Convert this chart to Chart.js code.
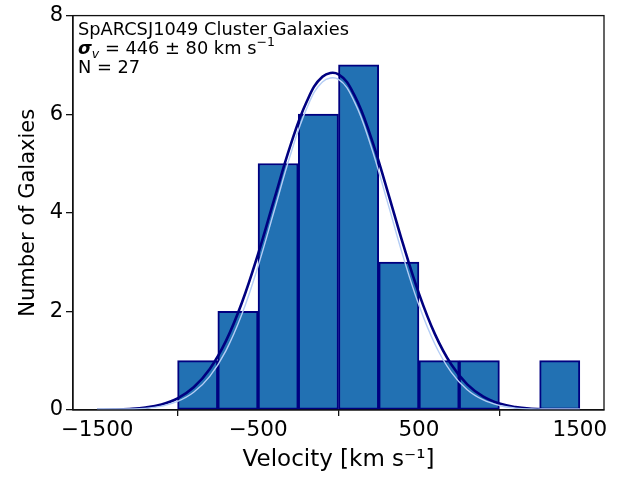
<!DOCTYPE html>
<html>
<head>
<meta charset="utf-8">
<script src="https://cdn.jsdelivr.net/npm/chart.js@4/dist/chart.umd.min.js"></script>
<style>
  html, body { margin: 0; padding: 0; background: #fff; }
  canvas { display: block; }
</style>
</head>
<body>
<canvas id="velChart" width="619" height="478"></canvas>
<script>
// histogram bins (km/s, bin centre) and galaxy counts
const binCenters = [-875, -625, -375, -125, 125, 375, 625, 875, 1125, 1375];
const counts = [1, 2, 5, 6, 7, 3, 1, 1, 0, 1];

// fitted curve
const curveX = [-1500, -1400, -1300, -1200, -1100, -1000, -900, -800, -700, -600, -500, -400, -300, -200, -100,
                0, 100, 200, 300, 400, 500, 600, 700, 800, 900, 1000, 1100, 1200, 1300, 1400, 1500];
const fitY = [0.003, 0.008, 0.021, 0.05, 0.113, 0.237, 0.46, 0.831, 1.396, 2.18, 3.163, 4.267, 5.351, 6.238, 6.76,
              6.81, 6.377, 5.551, 4.492, 3.378, 2.361, 1.534, 0.927, 0.52, 0.272, 0.132, 0.059, 0.025, 0.01, 0.004, 0.001];
// thin light line just inside the dark one
const fitInnerY = [0.02, 0.02, 0.02, 0.032, 0.078, 0.174, 0.359, 0.682, 1.199, 1.945, 2.915, 4.036, 5.162, 6.098, 6.654,
                   6.707, 6.245, 5.371, 4.267, 3.131, 2.123, 1.329, 0.769, 0.411, 0.203, 0.092, 0.039, 0.02, 0.02, 0.02, 0.02];

const xTicks = [-1500, -500, 500, 1500];
const yTicks = [0, 2, 4, 6, 8];

const annoTitle = 'SpARCSJ1049 Cluster Galaxies';
const annoSigma = ' = 446 \u00b1 80 km s';
const annoN = 'N = 27';

const FONT = '"DejaVu Sans", sans-serif';

// texte dans le coin haut gauche
const annotationPlugin = {
    id: 'annotation',
    afterDraw(chart) {
        const c = chart.ctx;
        const a = chart.chartArea;
        const x0 = a.left + 5;
        c.save();
        c.fillStyle = '#000';
        c.textBaseline = 'alphabetic';
        c.textAlign = 'left';
        c.font = '17.8px ' + FONT;
        c.fillText(annoTitle, x0, 35);

        let x = x0;
        c.font = 'bold italic 17.8px ' + FONT;
        c.fillText('\u03c3', x, 53.5);
        x += c.measureText('\u03c3').width;
        c.font = 'italic 12.5px ' + FONT;
        c.fillText('v', x, 57.5);
        x += c.measureText('v').width;
        c.font = '17.8px ' + FONT;
        c.fillText(annoSigma, x, 53.5);
        x += c.measureText(annoSigma).width;
        c.font = '12.5px ' + FONT;
        c.fillText('\u22121', x, 46);

        c.font = '17.8px ' + FONT;
        c.fillText(annoN, x0, 72.5);

        // cadre
        c.strokeStyle = '#111';
        c.lineWidth = 1.3;
        c.strokeRect(a.left, a.top, a.right - a.left, a.bottom - a.top);
        c.restore();
    }
};

document.addEventListener('DOMContentLoaded', function() {
    const ctx = document.getElementById('velChart').getContext('2d');
    new Chart(ctx, {
        type: 'bar',
        data: {
            datasets: [{
                type: 'line',
                data: curveX.map((v, i) => ({ x: v, y: fitInnerY[i] })),
                borderColor: '#b4cdf5',
                borderWidth: 1.4,
                pointRadius: 0,
                tension: 0.4,
                fill: false,
                order: 1
            }, {
                type: 'line',
                data: curveX.map((v, i) => ({ x: v, y: fitY[i] })),
                borderColor: '#000080',
                borderWidth: 2.6,
                pointRadius: 0,
                tension: 0.4,
                fill: false,
                order: 2
            }, {
                type: 'bar',
                data: binCenters.map((v, i) => ({ x: v, y: counts[i] })),
                backgroundColor: '#2271b3',
                borderColor: '#000080',
                borderWidth: 2,
                borderSkipped: false,
                barPercentage: 1,
                categoryPercentage: 1,
                order: 3
            }]
        },
        options: {
            responsive: false,
            animation: false,
            devicePixelRatio: 1,
            layout: { padding: { top: 13, right: 15, left: 0, bottom: 0 } },
            plugins: {
                legend: { display: false },
                tooltip: { enabled: false }
            },
            scales: {
                x: {
                    type: 'linear',
                    min: -1650,
                    max: 1650,
                    offset: false,
                    afterBuildTicks: s => { s.ticks = xTicks.map(v => ({ value: v })); },
                    afterFit: s => { s.height = 68; },
                    border: { color: '#111', width: 1.3 },
                    grid: { drawOnChartArea: false, drawTicks: true, tickLength: 6, color: '#111', lineWidth: 1.3 },
                    ticks: {
                        color: '#000',
                        padding: 2,
                        maxRotation: 0,
                        font: { family: FONT, size: 21.5 },
                        callback: v => v < 0 ? '\u2212' + Math.abs(v) : String(v)
                    },
                    title: {
                        display: true,
                        text: 'Velocity [km s\u207b\u00b9]',
                        color: '#000',
                        font: { family: FONT, size: 23 },
                        padding: { top: 0, bottom: 4 }
                    }
                },
                y: {
                    min: 0,
                    max: 8,
                    afterBuildTicks: s => { s.ticks = yTicks.map(v => ({ value: v })); },
                    afterFit: s => { s.width = 73; },
                    border: { color: '#111', width: 1.3 },
                    grid: { drawOnChartArea: false, drawTicks: true, tickLength: 7, color: '#111', lineWidth: 1.3 },
                    ticks: {
                        color: '#000',
                        padding: 3,
                        font: { family: FONT, size: 21 }
                    },
                    title: {
                        display: true,
                        text: 'Number of Galaxies',
                        color: '#000',
                        font: { family: FONT, size: 21 },
                        padding: { top: 16, bottom: 0 }
                    }
                }
            }
        },
        plugins: [annotationPlugin]
    });
});
</script>
</body>
</html>
